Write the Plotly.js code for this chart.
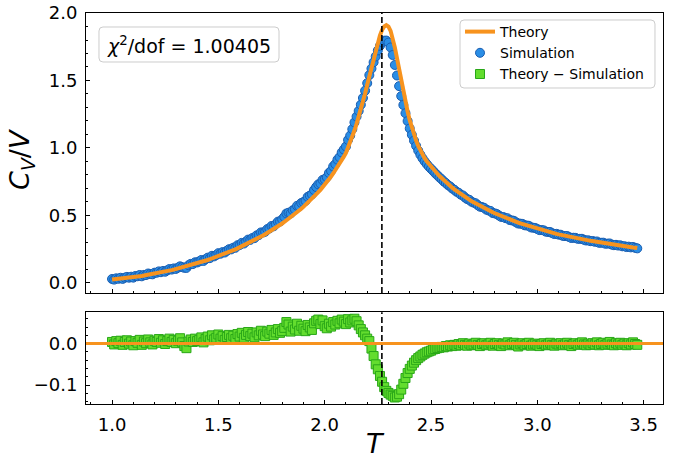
<!DOCTYPE html>
<html>
<head>
<meta charset="utf-8">
<script src="https://cdn.plot.ly/plotly-3.0.1.min.js"></script>
<style>
  html, body { margin: 0; padding: 0; background: #ffffff; }
  #chart { width: 677px; height: 461px; }
</style>
</head>
<body>
<div id="chart"></div>
<script>
// Temperature grid of the Monte Carlo runs
const temperature = [
  1.00, 1.01, 1.02, 1.03, 1.04, 1.05, 1.06, 1.07, 1.08, 1.09,
  1.10, 1.11, 1.12, 1.13, 1.14, 1.15, 1.16, 1.17, 1.18, 1.19,
  1.20, 1.21, 1.22, 1.23, 1.24, 1.25, 1.26, 1.27, 1.28, 1.29,
  1.30, 1.31, 1.32, 1.33, 1.34, 1.35, 1.36, 1.37, 1.38, 1.39,
  1.40, 1.41, 1.42, 1.43, 1.44, 1.45, 1.46, 1.47, 1.48, 1.49,
  1.50, 1.51, 1.52, 1.53, 1.54, 1.55, 1.56, 1.57, 1.58, 1.59,
  1.60, 1.61, 1.62, 1.63, 1.64, 1.65, 1.66, 1.67, 1.68, 1.69,
  1.70, 1.71, 1.72, 1.73, 1.74, 1.75, 1.76, 1.77, 1.78, 1.79,
  1.80, 1.81, 1.82, 1.83, 1.84, 1.85, 1.86, 1.87, 1.88, 1.89,
  1.90, 1.91, 1.92, 1.93, 1.94, 1.95, 1.96, 1.97, 1.98, 1.99,
  2.00, 2.01, 2.02, 2.03, 2.04, 2.05, 2.06, 2.07, 2.08, 2.09,
  2.10, 2.11, 2.12, 2.13, 2.14, 2.15, 2.16, 2.17, 2.18, 2.19,
  2.20, 2.21, 2.22, 2.23, 2.24, 2.25, 2.26, 2.27, 2.28, 2.29,
  2.30, 2.31, 2.32, 2.33, 2.34, 2.35, 2.36, 2.37, 2.38, 2.39,
  2.40, 2.41, 2.42, 2.43, 2.44, 2.45, 2.46, 2.47, 2.48, 2.49,
  2.50, 2.51, 2.52, 2.53, 2.54, 2.55, 2.56, 2.57, 2.58, 2.59,
  2.60, 2.61, 2.62, 2.63, 2.64, 2.65, 2.66, 2.67, 2.68, 2.69,
  2.70, 2.71, 2.72, 2.73, 2.74, 2.75, 2.76, 2.77, 2.78, 2.79,
  2.80, 2.81, 2.82, 2.83, 2.84, 2.85, 2.86, 2.87, 2.88, 2.89,
  2.90, 2.91, 2.92, 2.93, 2.94, 2.95, 2.96, 2.97, 2.98, 2.99,
  3.00, 3.01, 3.02, 3.03, 3.04, 3.05, 3.06, 3.07, 3.08, 3.09,
  3.10, 3.11, 3.12, 3.13, 3.14, 3.15, 3.16, 3.17, 3.18, 3.19,
  3.20, 3.21, 3.22, 3.23, 3.24, 3.25, 3.26, 3.27, 3.28, 3.29,
  3.30, 3.31, 3.32, 3.33, 3.34, 3.35, 3.36, 3.37, 3.38, 3.39,
  3.40, 3.41, 3.42, 3.43, 3.44, 3.45, 3.46, 3.47
];

// Exact specific heat per site on the same grid
const theory = [
  0.0234, 0.0248, 0.0263, 0.0278, 0.0295, 0.0312, 0.0331, 0.0350, 0.0371, 0.0393,
  0.0416, 0.0436, 0.0458, 0.0480, 0.0504, 0.0529, 0.0555, 0.0582, 0.0611, 0.0641,
  0.0672, 0.0700, 0.0729, 0.0759, 0.0791, 0.0824, 0.0858, 0.0893, 0.0930, 0.0969,
  0.1010, 0.1046, 0.1084, 0.1123, 0.1164, 0.1206, 0.1249, 0.1294, 0.1341, 0.1390,
  0.1440, 0.1486, 0.1534, 0.1583, 0.1633, 0.1686, 0.1740, 0.1795, 0.1853, 0.1912,
  0.1972, 0.2029, 0.2088, 0.2148, 0.2210, 0.2274, 0.2340, 0.2407, 0.2477, 0.2549,
  0.2623, 0.2693, 0.2765, 0.2839, 0.2915, 0.2993, 0.3074, 0.3156, 0.3241, 0.3328,
  0.3417, 0.3504, 0.3593, 0.3684, 0.3778, 0.3874, 0.3972, 0.4073, 0.4177, 0.4283,
  0.4392, 0.4502, 0.4614, 0.4730, 0.4848, 0.4969, 0.5094, 0.5221, 0.5352, 0.5485,
  0.5622, 0.5767, 0.5915, 0.6067, 0.6223, 0.6383, 0.6547, 0.6715, 0.6888, 0.7065,
  0.7249, 0.7450, 0.7660, 0.7878, 0.8103, 0.8335, 0.8575, 0.8823, 0.9081, 0.9349,
  0.963, 1.000, 1.040, 1.083, 1.129, 1.178, 1.230, 1.285, 1.343, 1.404,
  1.468, 1.534, 1.600, 1.665, 1.728, 1.785, 1.835, 1.875, 1.900, 1.910,
  1.900, 1.868, 1.815, 1.745, 1.665, 1.580, 1.495, 1.415, 1.340, 1.270,
  1.205, 1.150, 1.100, 1.055, 1.015, 0.980, 0.950, 0.924, 0.901, 0.880,
  0.862, 0.843, 0.825, 0.808, 0.791, 0.775, 0.760, 0.745, 0.731, 0.718,
  0.705, 0.692, 0.680, 0.668, 0.657, 0.646, 0.635, 0.625, 0.615, 0.605,
  0.596, 0.587, 0.578, 0.570, 0.562, 0.554, 0.546, 0.538, 0.530, 0.522,
  0.515, 0.508, 0.501, 0.494, 0.487, 0.481, 0.475, 0.469, 0.463, 0.457,
  0.451, 0.446, 0.440, 0.435, 0.430, 0.425, 0.420, 0.415, 0.410, 0.406,
  0.401, 0.3963, 0.3917, 0.3872, 0.3828, 0.3785, 0.3743, 0.3702, 0.3662, 0.3623,
  0.3585, 0.3548, 0.3512, 0.3477, 0.3443, 0.3410, 0.3377, 0.3345, 0.3314, 0.3284,
  0.3254, 0.3225, 0.3197, 0.3169, 0.3142, 0.3110, 0.3082, 0.3054, 0.3027, 0.3000,
  0.2974, 0.2948, 0.2922, 0.2897, 0.2872, 0.2847, 0.2823, 0.2799, 0.2775, 0.2752,
  0.2729, 0.2706, 0.2684, 0.2662, 0.2640, 0.2618, 0.2597, 0.2576
];

// Residual series shown in the lower panel (simulation offset from theory)
const residual = [
   0.004, -0.002,  0.006,  0.001,  0.007, -0.003,  0.004,  0.008,  0.000,  0.005,
  -0.004,  0.006,  0.002,  0.009, -0.003,  0.005,  0.001,  0.010,  0.003, -0.002,
   0.007,  0.004,  0.011,  0.002,  0.008, -0.001,  0.006,  0.012,  0.004,  0.009,
   0.001,  0.007,  0.013,  0.003, -0.006, -0.011,  0.005,  0.010,  0.004,  0.012,
   0.006,  0.009,  0.015,  0.003,  0.011,  0.017,  0.008,  0.020,  0.010,  0.014,
   0.022,  0.012,  0.018,  0.009,  0.016,  0.021,  0.013,  0.019,  0.011,  0.023,
   0.017,  0.026,  0.014,  0.021,  0.028,  0.018,  0.024,  0.015,  0.027,  0.020,
   0.031,  0.022,  0.018,  0.029,  0.024,  0.033,  0.021,  0.027,  0.035,  0.026,
   0.030,  0.038,  0.052,  0.046,  0.029,  0.041,  0.034,  0.048,  0.031,  0.043,
   0.036,  0.030,  0.045,  0.039,  0.033,  0.049,  0.055,  0.058,  0.047,  0.056,
   0.042,  0.037,  0.048,  0.041,  0.052,  0.046,  0.055,  0.049,  0.058,  0.053,
   0.047,  0.059,  0.051,  0.056,  0.060,  0.054,  0.044,  0.035,  0.027,  0.020,
   0.012,  0.006, -0.012, -0.030, -0.050, -0.062, -0.078, -0.092, -0.105, -0.114,
  -0.119, -0.123, -0.126, -0.130, -0.128, -0.122, -0.111, -0.097, -0.083, -0.071,
  -0.061, -0.053, -0.046, -0.040, -0.035, -0.031, -0.027, -0.024, -0.021, -0.019,
  -0.017, -0.014, -0.013, -0.011, -0.010, -0.008, -0.009, -0.006, -0.007, -0.004,
  -0.006, -0.003, -0.005, -0.001, -0.004,  0.001, -0.003, -0.005,  0.000, -0.004,
  -0.002,  0.002, -0.003, -0.006, -0.001,  0.001, -0.004, -0.002,  0.002, -0.005,
  -0.001,  0.001, -0.003, -0.006,  0.000, -0.002,  0.003, -0.004, -0.001,  0.002,
  -0.003, -0.007, -0.002,  0.001, -0.004, -0.001,  0.002, -0.005, -0.002,  0.000,
  -0.003, -0.006, -0.001,  0.001, -0.004, -0.002,  0.002, -0.003, -0.005,  0.000,
  -0.002,  0.001, -0.004, -0.002,  0.002, -0.003, -0.006, -0.001,  0.001, -0.003,
   0.000,  0.003, -0.002, -0.004,  0.000, -0.003,  0.001, -0.002,  0.003, -0.004,
  -0.001,  0.002, -0.003,  0.000,  0.004, -0.002, -0.004,  0.001, -0.002,  0.002,
  -0.003,  0.000, -0.004,  0.001, -0.002,  0.003, -0.001, -0.003
];

// Monte Carlo estimate at each temperature
const simulation = theory.map((c, i) => c + residual[i]);

const criticalT = 2.269;          // Onsager critical temperature
const chiText = '<i>χ</i><sup>2</sup>/dof = 1.00405';
const seriesNames = ['Theory', 'Simulation', 'Theory − Simulation'];

const ORANGE = '#f7931e';
const BLUE_FILL = '#2a8ee6';
const BLUE_EDGE = '#1a5db0';
const GREEN_FILL = '#63dd2e';
const GREEN_EDGE = '#29a718';
const FONT = 'DejaVu Sans, sans-serif';

// rounded rectangle in paper units; radius given in pixels
const PLOT_W = 577, PLOT_H = 391;
function roundedRect(x0, y0, x1, y1, r) {
  const rx = r / PLOT_W, ry = r / PLOT_H;
  return `M ${x0 + rx},${y0} L ${x1 - rx},${y0} Q ${x1},${y0} ${x1},${y0 + ry} ` +
         `L ${x1},${y1 - ry} Q ${x1},${y1} ${x1 - rx},${y1} L ${x0 + rx},${y1} ` +
         `Q ${x0},${y1} ${x0},${y1 - ry} L ${x0},${y0 + ry} Q ${x0},${y0} ${x0 + rx},${y0} Z`;
}

const traces = [
  {
    x: temperature, y: simulation, type: 'scatter', mode: 'markers',
    name: seriesNames[1], legendrank: 2,
    marker: { symbol: 'circle', size: 9, color: BLUE_FILL, line: { color: BLUE_EDGE, width: 1 } },
    xaxis: 'x', yaxis: 'y'
  },
  {
    x: temperature, y: theory, type: 'scatter', mode: 'lines',
    name: seriesNames[0], legendrank: 1,
    line: { color: ORANGE, width: 4 },
    xaxis: 'x', yaxis: 'y'
  },
  {
    x: temperature, y: residual, type: 'scatter', mode: 'markers',
    name: seriesNames[2], legendrank: 3,
    marker: { symbol: 'square', size: 9, color: GREEN_FILL, line: { color: GREEN_EDGE, width: 1 } },
    xaxis: 'x2', yaxis: 'y2'
  }
];

const xRange = [0.8776, 3.591];
const common = {
  showgrid: false, zeroline: false, showline: true, mirror: true,
  linecolor: '#000', linewidth: 1,
  ticks: 'inside', ticklen: 4, tickwidth: 1, tickcolor: '#000',
  tickfont: { family: FONT, size: 18, color: '#000' }
};

const layout = {
  width: 677, height: 461,
  margin: { l: 86, r: 14, t: 13, b: 57 },
  paper_bgcolor: '#fff', plot_bgcolor: '#fff',
  font: { family: FONT, color: '#000' },
  showlegend: true,
  legend: {
    x: 0.6482, y: 0.9923, xanchor: 'left', yanchor: 'top',
    bgcolor: 'rgba(0,0,0,0)', borderwidth: 0,
    font: { family: FONT, size: 14, color: '#000' },
    tracegroupgap: 0
  },
  xaxis: Object.assign({}, common, {
    domain: [0, 1], anchor: 'y', range: xRange,
    tick0: 0, dtick: 0.5, showticklabels: false,
    minor: { dtick: 0.1, ticks: 'inside', ticklen: 2, tickcolor: '#000' }
  }),
  yaxis: Object.assign({}, common, {
    domain: [0.2839, 1], anchor: 'x', range: [-0.0764, 2.0005],
    tick0: 0, dtick: 0.5, tickformat: '.1f', ticklabelstandoff: 4,
    minor: { dtick: 0.1, ticks: 'inside', ticklen: 2, tickcolor: '#000' }
  }),
  xaxis2: Object.assign({}, common, {
    domain: [0, 1], anchor: 'y2', range: xRange,
    tick0: 0, dtick: 0.5, tickformat: '.1f', ticklabelstandoff: 4,
    minor: { dtick: 0.1, ticks: 'inside', ticklen: 2, tickcolor: '#000' }
  }),
  yaxis2: Object.assign({}, common, {
    domain: [0, 0.2345], anchor: 'x2', range: [-0.1457, 0.0755],
    tick0: 0, dtick: 0.1, tickformat: '.1f', ticklabelstandoff: 4,
    minor: { dtick: 0.02, ticks: 'inside', ticklen: 2, tickcolor: '#000' }
  }),
  shapes: [
    // critical temperature markers
    { type: 'line', xref: 'x', yref: 'y domain', x0: criticalT, x1: criticalT, y0: 0, y1: 1,
      line: { color: '#000', width: 1.6, dash: '6px,3px' }, layer: 'above' },
    { type: 'line', xref: 'x2', yref: 'y2 domain', x0: criticalT, x1: criticalT, y0: 0, y1: 1,
      line: { color: '#000', width: 1.6, dash: '6px,3px' }, layer: 'above' },
    // zero reference in the residual panel
    { type: 'line', xref: 'x2 domain', yref: 'y2', x0: 0, x1: 1, y0: 0, y1: 0,
      line: { color: ORANGE, width: 3 }, layer: 'above' },
    // frames behind the fit label and the legend
    { type: 'path', xref: 'paper', yref: 'paper', path: roundedRect(0.0225, 0.8747, 0.3345, 0.9642, 4),
      fillcolor: '#fff', line: { color: '#cccccc', width: 1 }, layer: 'above' },
    { type: 'path', xref: 'paper', yref: 'paper', path: roundedRect(0.6482, 0.8082, 0.9861, 0.9821, 4),
      fillcolor: 'rgba(255,255,255,0.8)', line: { color: '#cccccc', width: 1 }, layer: 'above' }
  ],
  annotations: [
    { text: chiText, xref: 'paper', yref: 'paper', x: 0.1785, y: 0.9194,
      xanchor: 'center', yanchor: 'middle', showarrow: false,
      font: { family: FONT, size: 19, color: '#000' } },
    { text: '<i>C</i><sub><i>V</i></sub>/<i>V</i>', xref: 'paper', yref: 'paper',
      x: -0.111, y: 0.6266, xanchor: 'center', yanchor: 'middle', textangle: -90,
      showarrow: false, font: { family: FONT, size: 27, color: '#000' } },
    { text: '<i>T</i>', xref: 'paper', yref: 'paper', x: 0.5009, y: -0.1005,
      xanchor: 'center', yanchor: 'middle', showarrow: false,
      font: { family: FONT, size: 27, color: '#000' } }
  ]
};

Plotly.newPlot('chart', traces, layout, { displayModeBar: false, staticPlot: true });
</script>
</body>
</html>
